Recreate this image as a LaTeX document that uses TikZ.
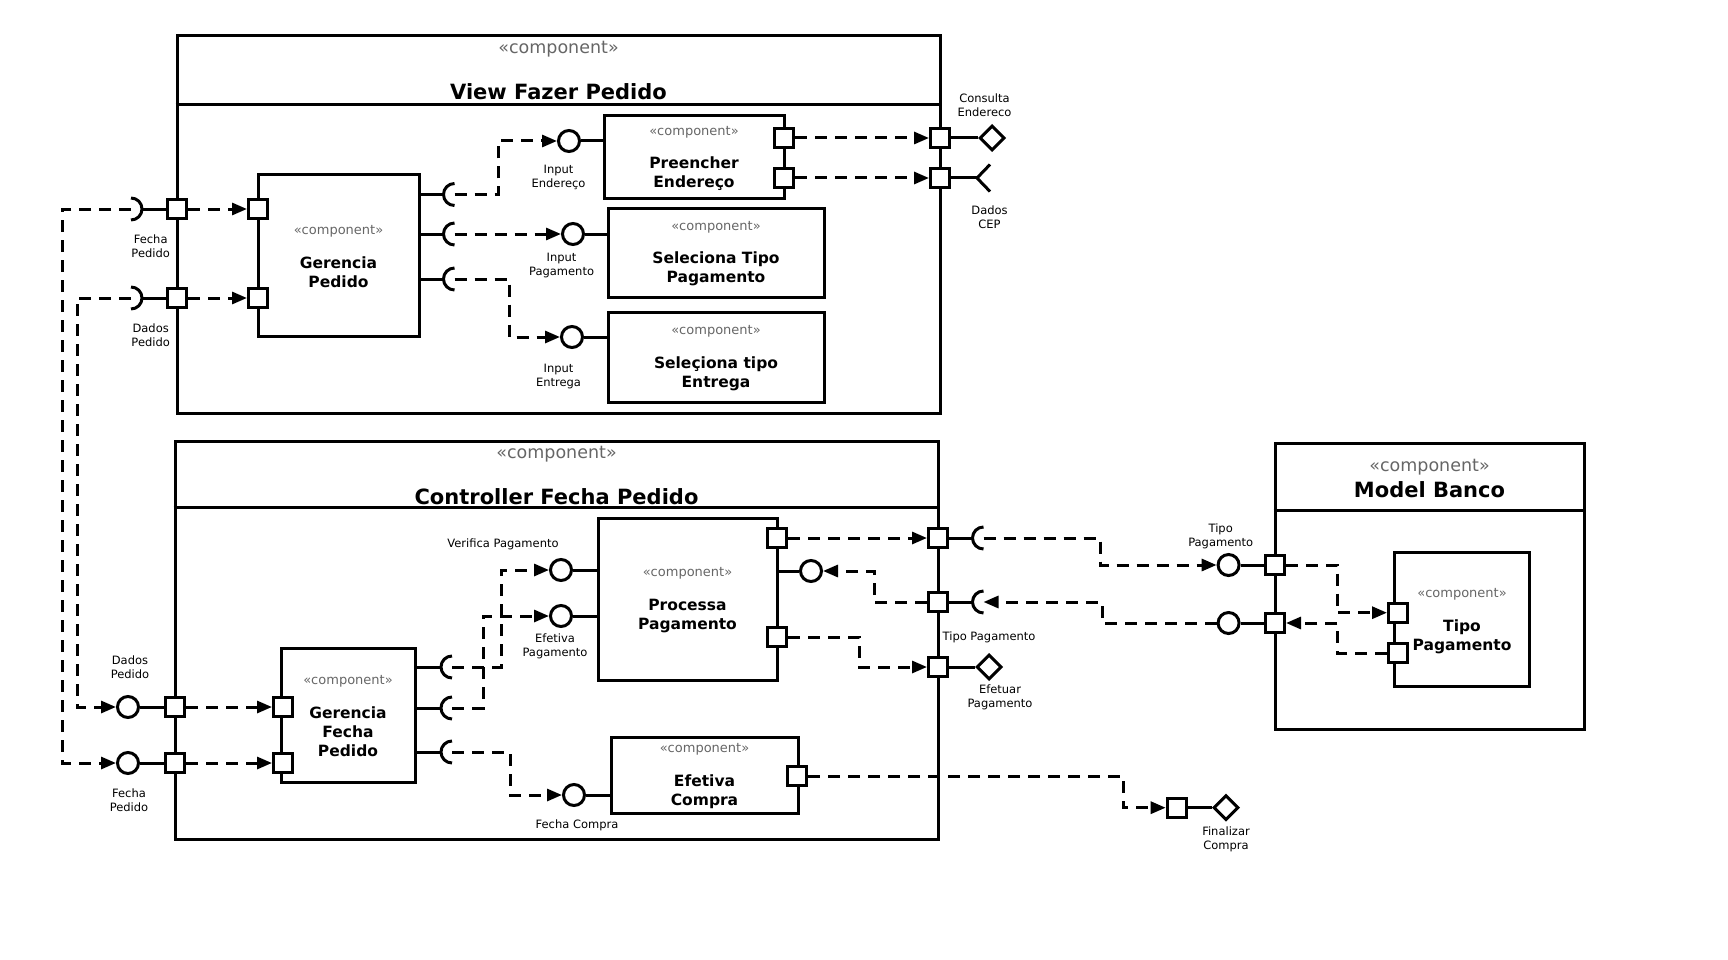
\documentclass[tikz,border=0pt]{standalone}
\usepackage{fontspec}
\setmainfont{DejaVu Sans}
\usetikzlibrary{arrows.meta, positioning, shapes.geometric}

\definecolor{stereo}{gray}{0.4}
\newcommand{\compst}{\raisebox{-2.5pt}[\height][\depth]{\fontsize{13}{16}\selectfont\mdseries\color{stereo}«component»}}

\begin{document}
\begin{tikzpicture}[x=1pt, y=-1pt, line width=3pt,
        font=\fontsize{11.5}{14}\selectfont,
        cframe/.style={draw, rectangle, inner sep=0pt},
        comp/.style={draw, rectangle, inner sep=0pt, align=center, font=\fontsize{15.5}{19}\selectfont\bfseries},
        port/.style={draw, fill=white, rectangle, minimum size=19pt, inner sep=0pt},
        iface/.style={draw, fill=white, circle, minimum size=21pt, inner sep=0pt},
        sock/.style={circle, minimum size=22pt, inner sep=0pt, outer sep=0pt},
        diam/.style={draw, fill=white, diamond, minimum width=25pt, minimum height=25pt, inner sep=0pt},
        lbl/.style={align=center, inner sep=0pt},
        ftitle/.style={font=\fontsize{21}{25}\selectfont\bfseries, inner sep=0pt},
        fstereo/.style={font=\fontsize{17.5}{21}\selectfont, text=stereo, inner sep=0pt},
        dep/.style={dash pattern=on 12pt off 8pt, -{Triangle[length=15pt,width=12pt]}}]
    \useasboundingbox (0,0) rectangle (1728,960);

    % frames
    \node[cframe, minimum width=763pt, minimum height=377pt] (vf) at (558.5,224.5) {};
    \draw ([yshift=-70pt]vf.north west) -- ([yshift=-70pt]vf.north east);
    \node[fstereo] (vfs) at (558.5,49.5) {«component»};
    \node[ftitle]  (vft) at (558.5,92) {View Fazer Pedido};

    \node[cframe, minimum width=763pt, minimum height=398pt] (cf) at (556.5,640) {};
    \draw ([yshift=-68pt]cf.north west) -- ([yshift=-68pt]cf.north east);
    \node[fstereo] (cfs) at (556.5,454.5) {«component»};
    \node[ftitle]  (cft) at (556.5,497) {Controller Fecha Pedido};

    \node[cframe, minimum width=309pt, minimum height=286pt] (mf) at (1429.5,586) {};
    \draw ([yshift=-69pt]mf.north west) -- ([yshift=-69pt]mf.north east);
    \node[fstereo] (mfs) at (1429.5,467.5) {«component»};
    \node[ftitle]  (mft) at (1429.5,490) {Model Banco};

    % components
    \node[comp, minimum width=161pt, minimum height=161pt] (gp)  at (338.5,255.5) {\compst\\[17pt]Gerencia\\Pedido};
    \node[comp, minimum width=180pt, minimum height=82pt]  (pe)  at (694,157)     {\compst\\[17pt]Preencher\\Endereço};
    \node[comp, minimum width=216pt, minimum height=89pt]  (stp) at (716,252.5)   {\compst\\[17pt]Seleciona Tipo\\Pagamento};
    \node[comp, minimum width=216pt, minimum height=90pt]  (ste) at (716,357)     {\compst\\[17pt]Seleçiona tipo\\Entrega};
    \node[comp, minimum width=134pt, minimum height=134pt] (gfp) at (348,715)     {\compst\\[17pt]Gerencia\\Fecha\\Pedido};
    \node[comp, minimum width=179pt, minimum height=162pt] (pp)  at (687.5,599)   {\compst\\[17pt]Processa\\Pagamento};
    \node[comp, minimum width=187pt, minimum height=76pt]  (ec)  at (704.5,775)   {\compst\\[17pt]Efetiva\\Compra};
    \node[comp, minimum width=135pt, minimum height=134pt] (tp)  at (1462,619.7)  {\compst\\[17pt]Tipo\\Pagamento};

    % ports
    \node[port] (vp1)   at (177,209) {};
    \node[port] (vp2)   at (177,298) {};
    \node[port] (gpp1)  at (258,209) {};
    \node[port] (gpp2)  at (258,298) {};
    \node[port] (pep1)  at (784,138) {};
    \node[port] (pep2)  at (784,178) {};
    \node[port] (vp3)   at (940,138) {};
    \node[port] (vp4)   at (940,178) {};
    \node[port] (cp1)   at (175,707) {};
    \node[port] (cp2)   at (175,763) {};
    \node[port] (gfpp1) at (283,707) {};
    \node[port] (gfpp2) at (283,763) {};
    \node[port] (ppp1)  at (777,538) {};
    \node[port] (ppp2)  at (777,637) {};
    \node[port] (ecp)   at (797,776) {};
    \node[port] (cp3)   at (938,538) {};
    \node[port] (cp4)   at (938,602) {};
    \node[port] (cp5)   at (938,667) {};
    \node[port] (mp1)   at (1275,565) {};
    \node[port] (mp2)   at (1275,623) {};
    \node[port] (tpp1)  at (1398,612.7) {};
    \node[port] (tpp2)  at (1398,653.3) {};
    \node[port] (fport) at (1176.7,807.7) {};

    % provided interfaces
    \node[iface] (ie)  at (569,141) {};
    \node[iface] (ip)  at (573,234) {};
    \node[iface] (ien) at (572,337) {};
    \node[iface] (cdp) at (128,707) {};
    \node[iface] (cfp) at (128,763) {};
    \node[iface] (vpg) at (561,570) {};
    \node[iface] (epg) at (561,616) {};
    \node[iface] (fcp) at (574,795) {};
    \node[iface] (ppc) at (811,571) {};
    \node[iface] (mc1) at (1228.6,565) {};
    \node[iface] (mc2) at (1228.6,623) {};

    % required interfaces
    \node[sock] (vs1)  at (131,209) {};
    \node[sock] (vs2)  at (131,298) {};
    \node[sock] (gs1)  at (454.5,194.5) {};
    \node[sock] (gs2)  at (454.5,234) {};
    \node[sock] (gs3)  at (454.5,279) {};
    \node[sock] (gfs1) at (452,667) {};
    \node[sock] (gfs2) at (452,708) {};
    \node[sock] (gfs3) at (452,752) {};
    \node[sock] (cs1)  at (983.5,538) {};
    \node[sock] (cs2)  at (983.5,602) {};
    \foreach \s in {gs1,gs2,gs3,gfs1,gfs2,gfs3,cs1,cs2}
        \draw (\s.north) arc[start angle=90, end angle=270, radius=11pt];
    \foreach \s in {vs1,vs2}
        \draw (\s.north) arc[start angle=90, end angle=-90, radius=11pt];

    \node[diam] (ce)    at (992,138) {};
    \node[diam] (efd)   at (989,667) {};
    \node[diam] (fdiam) at (1226,807.7) {};
    \node[inner sep=0pt, outer sep=0pt, minimum width=13pt, minimum height=27pt] (cep) at (983.5,178) {};
    \draw (cep.north east) -- (cep.west) -- (cep.south east);

    % labels
    \node[lbl] at (150.7,246)   {Fecha\\Pedido};
    \node[lbl] at (150.7,335)   {Dados\\Pedido};
    \node[lbl] at (558.5,177)   {Input\\Endereço};
    \node[lbl] at (561.6,265.5) {Input\\Pagamento};
    \node[lbl] at (558.5,377)   {Input\\Entrega};
    \node[lbl] at (984.5,105.5) {Consulta\\Endereco};
    \node[lbl] at (989.5,217)   {Dados\\CEP};
    \node[lbl] at (130,667)     {Dados\\Pedido};
    \node[lbl] at (129,800)     {Fecha\\Pedido};
    \node[lbl] at (503,544)     {Verifica Pagamento};
    \node[lbl] at (555,646.5)   {Efetiva\\Pagamento};
    \node[lbl] at (577,825)     {Fecha Compra};
    \node[lbl] at (989,637)     {Tipo Pagamento};
    \node[lbl] at (1000,697)    {Efetuar\\Pagamento};
    \node[lbl] at (1220.7,536)  {Tipo\\Pagamento};
    \node[lbl, below=32pt of fdiam.center, anchor=center] {Finalizar\\Compra};

    % assembly lines
    \draw (vs1.east) -- (vp1);
    \draw (vs2.east) -- (vp2);
    \foreach \s in {gs1,gs2,gs3}
        \draw (gp.east |- \s) -- (\s.west);
    \foreach \s in {gfs1,gfs2,gfs3}
        \draw (gfp.east |- \s) -- (\s.west);
    \draw (ie) -- (ie -| pe.west);
    \draw (ip) -- (ip -| stp.west);
    \draw (ien) -- (ien -| ste.west);
    \draw (vp3) -- (ce);
    \draw (vp4) -- (cep.west);
    \draw (cdp) -- (cp1);
    \draw (cfp) -- (cp2);
    \draw (vpg) -- (vpg -| pp.west);
    \draw (epg) -- (epg -| pp.west);
    \draw (fcp) -- (fcp -| ec.west);
    \draw (pp.east |- ppc) -- (ppc);
    \draw (cp3) -- (cs1.west);
    \draw (cp4) -- (cs2.west);
    \draw (cp5) -- (efd);
    \draw (mc1) -- (mp1);
    \draw (mc2) -- (mp2);
    \draw (fport) -- (fdiam);

    % dependencies
    \path[dep] (vp1) edge (gpp1)
        (vp2) edge (gpp2)
        (pep1) edge (vp3)
        (pep2) edge (vp4)
        (gs2.center) edge (ip)
        (cp1) edge (gfpp1)
        (cp2) edge (gfpp2)
        (ppp1) edge (cp3);
    \draw[dep] (vs1.center) -- ++(-69,0) |- (cfp);
    \draw[dep] (vs2.center) -- ++(-54,0) |- (cdp);
    \draw[dep] (gs1.center) -- ++(44,0) |- (ie);
    \draw[dep] (gs3.center) -- ++(54.5,0) |- (ien);
    \draw[dep] (gfs1.center) -- ++(49,0) |- (vpg);
    \draw[dep] (gfs2.center) -- ++(31,0) |- (epg);
    \draw[dep] (gfs3.center) -- ++(58,0) |- (fcp);
    \draw[dep] (cp4) -- ++(-64,0) |- (ppc);
    \draw[dep] (ppp2) -- ++(82,0) |- (cp5);
    \draw[dep] (cs1.center) -- ++(116.5,0) |- (mc1);
    \draw[dep] (mc2) -- ++(-126.6,0) |- (cs2.center);
    \draw[dep] (mp1) -- ++(62.5,0) |- (tpp1);
    \draw[dep] (tpp2) -- ++(-60.5,0) |- (mp2);
    \draw[dep] (ecp) -- ++(326,0) |- (fport);
\end{tikzpicture}
\end{document}
